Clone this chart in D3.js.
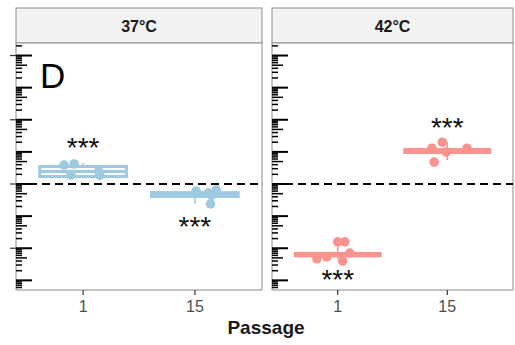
<!DOCTYPE html>
<html>
<head>
<meta charset="utf-8">
<script src="https://cdn.jsdelivr.net/npm/d3@7"></script>
<style>
  body { margin: 0; background: #fff; }
  svg { display: block; font-family: "Liberation Sans", Arial, sans-serif; }
</style>
</head>
<body>
<svg id="chart"></svg>
<script>
// ---- data (y = ratio, log scale) ----
const temps = ['37°C', '42°C'];
const passages = ['1', '15'];
const colors = ['#9ecae1', '#f8938d'];

// box stats per temp x passage: [lo, q1, median, q3, hi]
const box37 = [[1.7, 1.71, 2.45, 3.5, 4.5], [0.24, 0.41, 0.47, 0.54, 0.62]];
const box42 = [[0.0047, 0.0058, 0.0062, 0.0069, 0.0158], [5.5, 9.6, 10.6, 11.8, 20]];

// points and their horizontal jitter (fraction of a band)
const pts37p1 = [3.9, 4.2, 1.9, 2.5, 1.85];
const jit37p1 = [-0.17, -0.08, -0.11, 0.14, 0.15];
const pts37p15 = [0.6, 0.65, 0.45, 0.24, 0.52];
const jit37p15 = [0.01, 0.19, 0.15, 0.14, 0.12];
const pts42p1 = [0.0158, 0.0158, 0.0047, 0.0054, 0.0040, 0.0071];
const jit42p1 = [0, 0.065, -0.19, -0.10, 0.045, 0.11];
const pts42p15 = [20, 13, 13, 4.8, 9.9];
const jit42p15 = [-0.045, -0.14, 0.18, -0.12, -0.01];

// significance stars: y position (ratio)
const star37 = [15, 0.053];
const star42 = [0.0012, 63];

const yDomain = [Math.pow(10, -3.3), Math.pow(10, 4.39)];

// ---- layout ----
const W = 515, H = 345;
const svg = d3.select('#chart').attr('width', W).attr('height', H);
const panelTop = 43, panelBottom = 290, stripTop = 8;
const panels = [
  { x0: 16, x1: 262, box: box37, pts: [pts37p1, pts37p15], jit: [jit37p1, jit37p15], stars: star37 },
  { x0: 272, x1: 513, box: box42, pts: [pts42p1, pts42p15], jit: [jit42p1, jit42p15], stars: star42 }
];

const y = d3.scaleLog().domain(yDomain).range([panelBottom, panelTop]);

// log tick values
const logTicks = [];
for (let d = -4; d <= 4; d++) {
  for (let k = 1; k <= 9; k++) {
    const v = k * Math.pow(10, d);
    if (v >= yDomain[0] && v <= yDomain[1]) logTicks.push({ v, k });
  }
}

panels.forEach((p, i) => {
  const g = svg.append('g');
  const x = d3.scaleBand().domain(passages).range([p.x0, p.x1]).paddingOuter(0.1).paddingInner(0);
  const bw = x.bandwidth();
  const cx = d => x(d) + bw / 2;

  // strip
  g.append('rect').attr('x', p.x0).attr('y', stripTop).attr('width', p.x1 - p.x0).attr('height', panelTop - stripTop)
    .attr('fill', '#f2f2f2').attr('stroke', '#8c8c8c').attr('stroke-width', 1);
  g.append('text').attr('x', (p.x0 + p.x1) / 2).attr('y', 32).attr('text-anchor', 'middle')
    .attr('font-size', 16).attr('font-weight', 'bold').attr('fill', '#1a1a1a').text(temps[i]);

  // panel
  g.append('rect').attr('x', p.x0).attr('y', panelTop).attr('width', p.x1 - p.x0).attr('height', panelBottom - panelTop)
    .attr('fill', '#fff').attr('stroke', '#8c8c8c').attr('stroke-width', 1);

  // log ticks
  g.selectAll('line.lt').data(logTicks).join('line')
    .attr('x1', p.x0).attr('x2', d => p.x0 + (d.k === 1 ? 16 : d.k === 5 ? 11 : 6))
    .attr('y1', d => y(d.v)).attr('y2', d => y(d.v))
    .attr('stroke', '#000').attr('stroke-width', d => d.k === 1 ? 2 : 1.5);

  // axis ticks outside (left panel only)
  if (i === 0) {
    const major = [1e4, 1e2, 1, 1e-2];
    g.selectAll('line.ot').data(major).join('line')
      .attr('x1', p.x0 - 6).attr('x2', p.x0)
      .attr('y1', d => y(d)).attr('y2', d => y(d))
      .attr('stroke', '#333').attr('stroke-width', 1.2);
  }

  // dashed reference at ratio 1
  g.append('line').attr('x1', p.x0).attr('x2', p.x1).attr('y1', y(1)).attr('y2', y(1))
    .attr('stroke', '#000').attr('stroke-width', 2).attr('stroke-dasharray', '8,5');

  // boxes
  const boxW = bw * 0.775;
  passages.forEach((ps, j) => {
    const [lo, q1, med, q3, hi] = p.box[j];
    const c = cx(ps);
    g.append('line').attr('x1', c).attr('x2', c).attr('y1', y(hi)).attr('y2', y(lo))
      .attr('stroke', colors[i]).attr('stroke-width', 1.5);
    g.append('rect').attr('x', c - boxW / 2).attr('y', y(q3)).attr('width', boxW)
      .attr('height', Math.max(0, y(q1) - y(q3)))
      .attr('fill', '#fff').attr('stroke', colors[i]).attr('stroke-width', 3);
    g.append('line').attr('x1', c - boxW / 2).attr('x2', c + boxW / 2).attr('y1', y(med)).attr('y2', y(med))
      .attr('stroke', colors[i]).attr('stroke-width', 3);
  });

  // points
  passages.forEach((ps, j) => {
    g.selectAll(null).data(p.pts[j]).join('circle')
      .attr('cx', (d, k) => cx(ps) + p.jit[j][k] * bw)
      .attr('cy', d => y(d)).attr('r', 4.8)
      .attr('fill', colors[i]);
  });

  // stars
  passages.forEach((ps, j) => {
    g.append('text').attr('x', cx(ps)).attr('y', y(p.stars[j]) + 11)
      .attr('text-anchor', 'middle').attr('font-size', 28).attr('fill', '#111').text('***');
  });

  // x axis ticks + labels
  g.selectAll('line.xt').data(passages).join('line')
    .attr('x1', cx).attr('x2', cx).attr('y1', panelBottom).attr('y2', panelBottom + 5)
    .attr('stroke', '#333').attr('stroke-width', 1.2);
  g.selectAll('text.xl').data(passages).join('text')
    .attr('x', cx).attr('y', panelBottom + 22).attr('text-anchor', 'middle')
    .attr('font-size', 16).attr('fill', '#4d4d4d').text(d => d);

  if (i === 0) {
    g.append('text').attr('x', 40).attr('y', 88).attr('font-size', 35).attr('fill', '#000').text('D');
  }
});

svg.append('text').attr('x', 266).attr('y', 334).attr('text-anchor', 'middle')
  .attr('font-size', 19).attr('font-weight', 'bold').attr('fill', '#1a1a1a').text('Passage');
</script>
</body>
</html>
